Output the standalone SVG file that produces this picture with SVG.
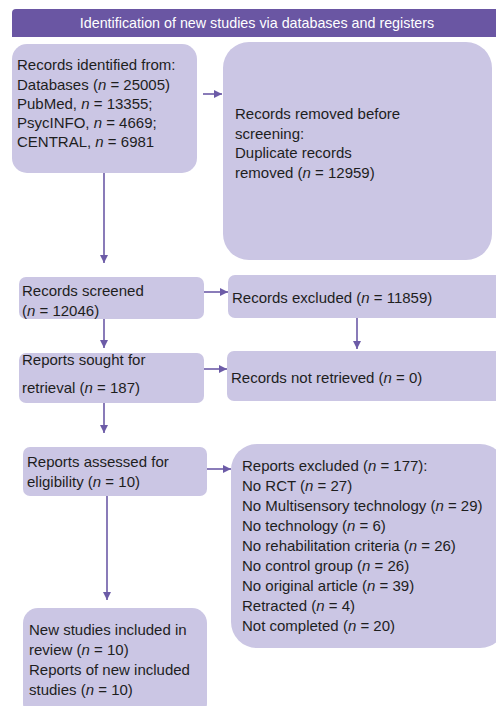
<svg xmlns="http://www.w3.org/2000/svg" width="496" height="706" viewBox="0 0 496 706">
<defs>
<style>
.box{fill:#cbc6e4;}
.t{font-family:"Liberation Sans",Arial,sans-serif;font-size:15px;fill:#1e1e1e;}
.h{font-family:"Liberation Sans",Arial,sans-serif;font-size:14.3px;fill:#ffffff;}
.c{stroke:#6c5ba7;stroke-width:1.6;fill:none;marker-end:url(#ah);}
</style>
<marker id="ah" viewBox="0 0 10 10" refX="10" refY="5" markerWidth="5" markerHeight="5" markerUnits="strokeWidth" orient="auto">
<path d="M0,0 L10,5 L0,10 Z" fill="#6c5ba7"/>
</marker>
</defs>
<rect width="496" height="706" fill="#ffffff"/>
<g id="header">
<path d="M12,13 Q12,9 16,9 L496,9 L496,37 L12,37 Z" fill="#6a56a3"/>
<text class="h" x="257" y="28" text-anchor="middle">Identification of new studies via databases and registers</text>
</g>
<g id="identified">
<rect class="box" x="12" y="44" width="185" height="129" rx="15"/>
<text class="t" x="17" y="70">Records identified from:</text>
<text class="t" x="17" y="90">Databases (<tspan font-style="italic">n</tspan> = 25005)</text>
<text class="t" x="17" y="109">PubMed, <tspan font-style="italic">n</tspan> = 13355;</text>
<text class="t" x="17" y="128">PsycINFO, <tspan font-style="italic">n</tspan> = 4669;</text>
<text class="t" x="17" y="147">CENTRAL, <tspan font-style="italic">n</tspan> = 6981</text>
</g>
<g id="removed">
<rect class="box" x="223" y="42" width="269" height="218" rx="26"/>
<text class="t" x="235" y="119">Records removed before</text>
<text class="t" x="235" y="139">screening:</text>
<text class="t" x="235" y="158">Duplicate records</text>
<text class="t" x="235" y="178">removed (<tspan font-style="italic">n</tspan> = 12959)</text>
</g>
<g id="screened">
<rect class="box" x="19" y="277" width="185" height="42" rx="7"/>
<text class="t" x="22" y="296">Records screened</text>
<text class="t" x="22" y="316">(<tspan font-style="italic">n</tspan> = 12046)</text>
</g>
<g id="excluded">
<rect class="box" x="228" y="275" width="276" height="43" rx="7"/>
<text class="t" x="232" y="303">Records excluded (<tspan font-style="italic">n</tspan> = 11859)</text>
</g>
<g id="sought">
<rect class="box" x="19" y="353" width="185" height="50" rx="7"/>
<text class="t" x="22" y="365">Reports sought for</text>
<text class="t" x="22" y="393">retrieval (<tspan font-style="italic">n</tspan> = 187)</text>
</g>
<g id="notretrieved">
<rect class="box" x="227" y="351" width="277" height="50" rx="7"/>
<text class="t" x="231" y="383">Records not retrieved (<tspan font-style="italic">n</tspan> = 0)</text>
</g>
<g id="assessed">
<rect class="box" x="23" y="447" width="184" height="49" rx="7"/>
<text class="t" x="27" y="467">Reports assessed for</text>
<text class="t" x="27" y="487">eligibility (<tspan font-style="italic">n</tspan> = 10)</text>
</g>
<g id="reportsexcluded">
<rect class="box" x="231" y="444" width="275" height="204" rx="26"/>
<text class="t" x="242" y="471">Reports excluded (<tspan font-style="italic">n</tspan> = 177):</text>
<text class="t" x="242" y="491">No RCT (<tspan font-style="italic">n</tspan> = 27)</text>
<text class="t" x="242" y="511">No Multisensory technology (<tspan font-style="italic">n</tspan> = 29)</text>
<text class="t" x="242" y="531">No technology (<tspan font-style="italic">n</tspan> = 6)</text>
<text class="t" x="242" y="551">No rehabilitation criteria (<tspan font-style="italic">n</tspan> = 26)</text>
<text class="t" x="242" y="571">No control group (<tspan font-style="italic">n</tspan> = 26)</text>
<text class="t" x="242" y="591">No original article (<tspan font-style="italic">n</tspan> = 39)</text>
<text class="t" x="242" y="611">Retracted (<tspan font-style="italic">n</tspan> = 4)</text>
<text class="t" x="242" y="631">Not completed (<tspan font-style="italic">n</tspan> = 20)</text>
</g>
<g id="included">
<rect class="box" x="23" y="608" width="184" height="110" rx="15"/>
<text class="t" x="29" y="635">New studies included in</text>
<text class="t" x="29" y="655">review (<tspan font-style="italic">n</tspan> = 10)</text>
<text class="t" x="29" y="675">Reports of new included</text>
<text class="t" x="29" y="695">studies (<tspan font-style="italic">n</tspan> = 10)</text>
</g>
<g id="connectors">
<path class="c" d="M203,94 L222,94"/>
<path class="c" d="M104,173 L104,263"/>
<path class="c" d="M204,292 L228,292"/>
<path class="c" d="M104,319 L104,348"/>
<path class="c" d="M357,318 L357,349"/>
<path class="c" d="M204,369 L227,369"/>
<path class="c" d="M104,403 L104,433"/>
<path class="c" d="M207,469 L231,469"/>
<path class="c" d="M107,496 L107,600"/>
</g>
</svg>
